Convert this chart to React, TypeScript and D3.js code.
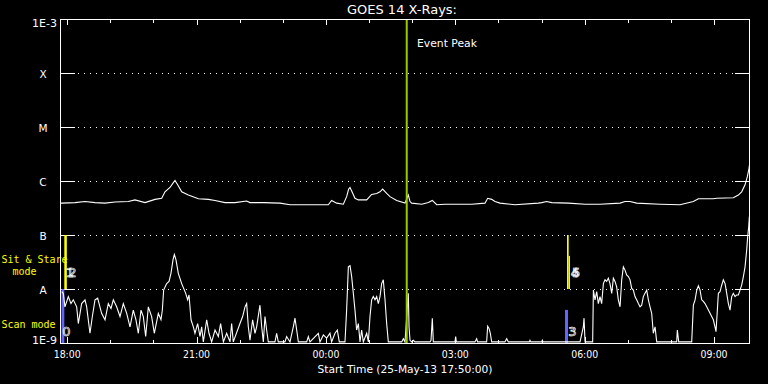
import React from 'react';
import * as d3 from 'd3';

// ---------- data ----------
const startTime = new Date(Date.UTC(2013, 4, 25, 17, 50, 0));
const spanMinutes = 960;

const levelLabels = ['1E-9', 'A', 'B', 'C', 'M', 'X', '1E-3'];
const levelFlux = [1e-9, 1e-8, 1e-7, 1e-6, 1e-5, 1e-4, 1e-3];
const gridFlux = [1e-8, 1e-7, 1e-6, 1e-5, 1e-4];

// GOES long channel (1-8 A): minutes after start, log10 flux
const longMinutes = [0, 2.3, 20.9, 34.8, 48.7, 62.6, 76.5, 95.1, 104.3, 118.3, 132.2, 141.5, 146.1, 153.0, 157.7, 160.0, 163.7, 169.3, 178.6, 192.5, 206.4, 215.7, 229.6, 243.5, 259.7, 264.3, 282.9, 306.1, 320.0, 352.5, 373.3, 377.9, 384.9, 394.2, 398.8, 401.6, 403.5, 406.3, 410.4, 415.1, 426.7, 433.6, 440.6, 445.2, 448.9, 454.5, 459.1, 468.4, 480.0, 484.6, 487.0, 489.3, 503.2, 512.5, 518.0, 524.1, 535.7, 572.8, 591.3, 595.0, 600.6, 605.2, 612.2, 633.1, 665.5, 670.2, 677.1, 684.1, 707.3, 730.5, 751.3, 779.2, 786.1, 793.1, 802.3, 834.8, 862.6, 881.2, 888.2, 909.0, 913.7, 936.8, 943.8, 948.4, 953.1, 956.3, 958.6, 960.0];
const longLog = [-6.41, -6.41, -6.40, -6.38, -6.40, -6.41, -6.39, -6.38, -6.35, -6.40, -6.34, -6.32, -6.20, -6.12, -6.03, -5.99, -6.07, -6.20, -6.26, -6.33, -6.34, -6.36, -6.40, -6.40, -6.37, -6.40, -6.40, -6.41, -6.44, -6.44, -6.44, -6.36, -6.41, -6.43, -6.29, -6.15, -6.12, -6.20, -6.32, -6.35, -6.35, -6.25, -6.23, -6.20, -6.15, -6.23, -6.29, -6.36, -6.41, -6.26, -6.38, -6.41, -6.43, -6.40, -6.36, -6.44, -6.43, -6.43, -6.41, -6.32, -6.34, -6.38, -6.41, -6.44, -6.41, -6.40, -6.38, -6.40, -6.41, -6.43, -6.43, -6.41, -6.38, -6.38, -6.41, -6.43, -6.44, -6.38, -6.33, -6.33, -6.32, -6.31, -6.26, -6.20, -6.07, -5.92, -5.77, -5.63];

// GOES short channel (0.5-4 A): minutes after start, log10 flux
const shortMinutes = [2.3, 4.6, 6.9, 11.6, 15.3, 18.5, 23.2, 25.5, 30.1, 34.8, 37.1, 41.7, 45.0, 48.7, 52.4, 57.9, 62.6, 67.2, 70.9, 74.2, 78.8, 83.5, 88.1, 92.8, 97.4, 102.0, 105.7, 109.0, 112.7, 115.9, 119.2, 122.9, 127.5, 131.2, 136.8, 140.5, 142.4, 144.2, 148.4, 151.7, 154.4, 157.2, 159.1, 161.4, 164.6, 169.3, 174.9, 177.6, 179.5, 182.3, 185.5, 187.8, 191.5, 194.8, 197.1, 199.4, 204.1, 207.3, 211.0, 215.7, 220.3, 223.5, 227.3, 231.9,
  236.5, 238.8, 241.1, 250.4, 254.1, 257.4, 259.7, 262.0, 264.3, 268.0, 271.3, 273.6, 278.2, 280.6, 282.9, 285.2, 287.5, 289.8, 299.1, 301.4, 303.7, 313.0, 315.3, 320.0, 324.6, 326.9, 329.3, 331.6, 343.2, 345.5, 347.8, 359.4, 361.7, 366.4, 371.0, 375.6, 377.9, 382.6, 385.8, 388.6, 396.5, 398.8, 401.2, 403.5, 405.8, 408.1, 410.4, 412.7, 415.1, 417.4, 419.7, 422.0, 426.7, 429.0, 431.3, 433.6, 435.9, 438.3, 440.6, 442.9, 445.2, 447.5, 449.8, 452.2, 454.5, 456.8, 475.4, 477.7, 480.0,
  484.6, 485.6, 487.0, 489.3, 491.6, 493.9, 514.8, 516.2, 518.0, 519.4, 549.6, 550.5, 551.4, 577.4, 579.7, 581.0, 593.6, 595.0, 596.9, 598.7, 600.6, 619.0, 621.5, 623.8, 653.0, 653.9, 655.0, 670.2, 671.1, 672.0,
  723.5, 728.1, 729.1, 730.5, 741.1, 742.1, 744.4, 746.7, 749.0, 751.3, 753.6, 756.0, 758.3, 760.6, 762.9, 765.2, 767.6, 769.9, 772.2, 774.5, 776.8, 779.2, 781.5, 783.8, 786.1, 788.4, 790.8, 793.1, 795.4, 797.7, 800.0, 802.3, 804.7, 807.0, 809.3, 811.6, 813.9, 816.3, 818.6, 820.9, 823.2, 825.5, 827.9, 830.2, 858.0, 858.9, 860.8, 878.9, 881.2, 883.6, 885.9, 888.2, 890.5, 892.8, 895.1, 897.4, 899.8, 902.1, 904.4, 906.7, 909.0, 911.3, 912.7, 914.6, 916.0, 918.3, 920.6, 922.9, 925.3, 927.6, 929.9, 932.2, 934.5, 936.8, 939.2, 941.5, 943.8, 946.1, 948.4, 950.8, 953.1, 955.4, 956.8, 958.2, 959.1];
const shortLog = [-8.05, -8.08, -8.33, -8.14, -8.27, -8.20, -8.33, -8.64, -8.27, -8.20, -8.33, -8.82, -8.51, -8.20, -8.17, -8.45, -8.57, -8.27, -8.36, -8.20, -8.33, -8.51, -8.27, -8.45, -8.70, -8.39, -8.57, -8.82, -8.39, -8.51, -8.88, -8.33, -8.51, -8.82, -8.45, -8.57, -8.39, -8.02, -7.90, -7.86, -7.71, -7.46, -7.36, -7.46, -7.71, -7.90, -8.08, -8.20, -8.11, -8.57, -8.70, -8.82, -8.64, -8.88, -8.70, -8.98, -8.57, -8.82, -8.98, -8.76, -8.88, -8.64, -8.98, -8.82,
  -8.98, -8.64, -8.98, -8.64, -8.51, -8.33, -8.27, -8.70, -8.95, -8.57, -8.82, -8.70, -8.30, -8.70, -8.98, -8.51, -8.76, -8.98, -8.98, -8.82, -8.98, -8.98, -8.88, -8.98, -8.70, -8.54, -8.76, -8.98, -8.98, -8.88, -8.98, -8.82, -8.98, -8.85, -8.91, -8.82, -8.98, -8.82, -8.76, -8.98, -8.98, -8.39, -7.59, -7.57, -7.77, -8.08, -8.39, -8.76, -8.64, -8.98, -8.76, -8.98, -8.82, -8.98, -8.51, -8.20, -8.14, -8.20, -8.14, -8.27, -8.14, -7.90, -7.83, -8.20, -8.64, -8.98, -8.98, -8.92, -8.98,
  -8.08, -8.70, -8.95, -8.98, -8.95, -8.98, -8.98, -8.95, -8.54, -8.98, -8.98, -8.88, -8.98, -8.98, -8.92, -8.98, -8.98, -8.69, -8.73, -8.82, -8.98, -8.98, -8.92, -8.98, -8.98, -8.95, -8.98, -8.98, -8.95, -8.98,
  -8.98, -8.70, -8.54, -8.98, -8.98, -8.02, -8.20, -8.05, -8.27, -8.14, -8.27, -7.90, -7.83, -7.86, -7.80, -7.90, -8.08, -7.80, -7.86, -7.96, -8.20, -8.33, -7.83, -7.59, -7.65, -7.74, -7.77, -7.83, -7.99, -8.02, -8.14, -8.20, -8.27, -8.33, -8.30, -8.14, -8.08, -8.02, -8.20, -8.33, -8.45, -8.82, -8.70, -8.98, -8.98, -8.76, -8.98, -8.98, -8.30, -8.20, -8.02, -7.94, -8.02, -8.20, -8.23, -8.27, -8.33, -8.39, -8.45, -8.51, -8.57, -8.70, -8.79, -8.39, -8.08, -8.05, -7.93, -7.83, -7.90, -8.08, -8.27, -8.39, -8.14, -8.08, -8.14, -8.11, -8.11, -8.02, -7.93, -7.77, -7.59, -7.28, -7.03, -6.85, -6.66];

const eventPeakMinute = 482.4;

// observing-mode bars
const modeBarStart = [2.1, 6.0, 702.6, 705.4, 707.7];
const modeBarEnd = [6.0, 9.5, 706.8, 707.7, 709.5];
const modeBarLow = [1e-9, 1e-8, 1e-9, 1e-8, 1e-8];
const modeBarHigh = [1e-8, 1e-7, 4.1e-9, 1e-7, 4.1e-8];
const modeBarKind = ['scan', 'stare', 'scan', 'stare', 'stare'];

const modeNumText = ['0', '1', '2', '3', '4', '5'];
const modeNumMinute = [3.0, 8.0, 11.5, 707.0, 710.5, 712.5];
const modeNumFlux = [1.6e-9, 2.0e-8, 2.0e-8, 1.6e-9, 2.0e-8, 2.0e-8];

// ---------- chart ----------
const W = 768;
const H = 384;
const L = 60, R = 750, T = 19, B = 343;
const FONT = 'DejaVu Sans, sans-serif';
const MONO = 'DejaVu Sans Mono, monospace';

const toDate = (m: number) => new Date(startTime.getTime() + m * 60000);

export default function App() {
  const x = d3.scaleUtc().domain([startTime, toDate(spanMinutes)]).range([L, R]);
  const y = d3.scaleLog().domain([1e-9, 1e-3]).range([B, T]);

  const longPts = longMinutes.map((m, i) => [m, Math.pow(10, longLog[i])] as [number, number]);
  const shortPts = shortMinutes.map((m, i) => [m, Math.pow(10, shortLog[i])] as [number, number]);
  const line = d3.line<[number, number]>()
    .x(d => x(toDate(d[0])))
    .y(d => y(Math.max(d[1], 1e-9)));

  const hours = d3.utcHour.range(startTime, toDate(spanMinutes));
  const fmt = d3.utcFormat('%H:%M');

  const evx = x(toDate(eventPeakMinute));

  return (
    <div style={{ position: 'absolute', left: 0, top: 0 }}>
      <svg width={W} height={H} style={{ display: 'block', background: '#000' }} fontFamily={FONT}>
        <rect x={0} y={0} width={W} height={H} fill="#000" />
        <defs>
          <clipPath id="plot">
            <rect x={L} y={T} width={R - L} height={B - T} />
          </clipPath>
        </defs>

        {/* title */}
        <text x={402} y={14} fill="#fff" fontSize={12.5} textAnchor="middle" textLength={110} lengthAdjust="spacingAndGlyphs">GOES 14 X-Rays:</text>

        {/* grid & y ticks */}
        {gridFlux.map((f, i) => (
          <g key={'g' + i} shapeRendering="crispEdges">
            <line x1={L} x2={L + 15} y1={Math.round(y(f)) + 0.5} y2={Math.round(y(f)) + 0.5} stroke="#fff" />
            <line x1={R - 15} x2={R} y1={Math.round(y(f)) + 0.5} y2={Math.round(y(f)) + 0.5} stroke="#fff" />
            <line x1={L + 18} x2={R - 15} y1={Math.round(y(f)) + 0.5} y2={Math.round(y(f)) + 0.5} stroke="#fff" strokeDasharray="1,5" />
          </g>
        ))}

        {/* y labels */}
        {levelLabels.map((lab, i) => {
          const yy = y(levelFlux[i]);
          if (lab.startsWith('1E')) {
            const dy = lab === '1E-3' ? 4 : -3;
            return <text key={'yl' + i} x={57} y={yy + dy} dominantBaseline="central" textAnchor="end" fill="#fff" fontSize={10.5} textLength={25} lengthAdjust="spacingAndGlyphs">{lab}</text>;
          }
          return <text key={'yl' + i} x={43} y={yy + 1} dominantBaseline="central" textAnchor="middle" fill="#fff" fontSize={10.5}>{lab}</text>;
        })}

        {/* x ticks */}
        {hours.map((h, i) => {
          const xx = Math.round(x(h)) + 0.5;
          const major = h.getUTCHours() % 3 === 0;
          const len = major ? 6 : 3.5;
          return (
            <g key={'xt' + i} shapeRendering="crispEdges">
              <line x1={xx} x2={xx} y1={T} y2={T + len} stroke="#fff" />
              <line x1={xx} x2={xx} y1={B} y2={B - len} stroke="#fff" />
              {major && (
                <text x={x(h)} y={358} fill="#fff" fontSize={10} textAnchor="middle" textLength={27} lengthAdjust="spacingAndGlyphs">{fmt(h)}</text>
              )}
            </g>
          );
        })}
        <text x={405} y={373} fill="#fff" fontSize={10.5} textAnchor="middle" textLength={175} lengthAdjust="spacingAndGlyphs">Start Time (25-May-13 17:50:00)</text>

        {/* mode labels */}
        <text x={34.5} y={263} fill="#ffff00" fontSize={10} fontFamily={MONO} textAnchor="middle">Sit &amp; Stare</text>
        <text x={24.5} y={275} fill="#ffff00" fontSize={10} fontFamily={MONO} textAnchor="middle">mode</text>
        <text x={28.5} y={328} fill="#ffff00" fontSize={10} fontFamily={MONO} textAnchor="middle">Scan mode</text>

        <g clipPath="url(#plot)">
          {/* mode bars */}
          {modeBarStart.map((s, i) => {
            const x0 = x(toDate(s));
            const x1 = x(toDate(modeBarEnd[i]));
            const yTop = y(modeBarHigh[i]);
            const yBot = y(modeBarLow[i]);
            return <rect key={'mb' + i} x={x0} y={yTop} width={x1 - x0} height={yBot - yTop} fill={modeBarKind[i] === 'scan' ? '#6464ff' : '#ffff00'} />;
          })}

          {/* data */}
          <path d={line(longPts) || ''} fill="none" stroke="#fff" strokeWidth={1.1} />
          <path d={line(shortPts) || ''} fill="none" stroke="#fff" strokeWidth={1.1} />

          {/* event peak */}
          <line x1={evx} x2={evx} y1={T} y2={B} stroke="#99cc00" strokeWidth={2} />
        </g>

        {modeNumText.map((t, i) => (
          <text key={'mn' + i} x={x(toDate(modeNumMinute[i]))} y={y(modeNumFlux[i])} dominantBaseline="central" fill="none" stroke="#fff" strokeWidth={0.7} fontSize={13}>{t}</text>
        ))}

        <text x={417} y={47} fill="#fff" fontSize={11} textLength={60} lengthAdjust="spacingAndGlyphs">Event Peak</text>

        {/* frame */}
        <rect x={L + 0.5} y={T + 0.5} width={R - L - 1} height={B - T} fill="none" stroke="#fff" shapeRendering="crispEdges" />
      </svg>
    </div>
  );
}
